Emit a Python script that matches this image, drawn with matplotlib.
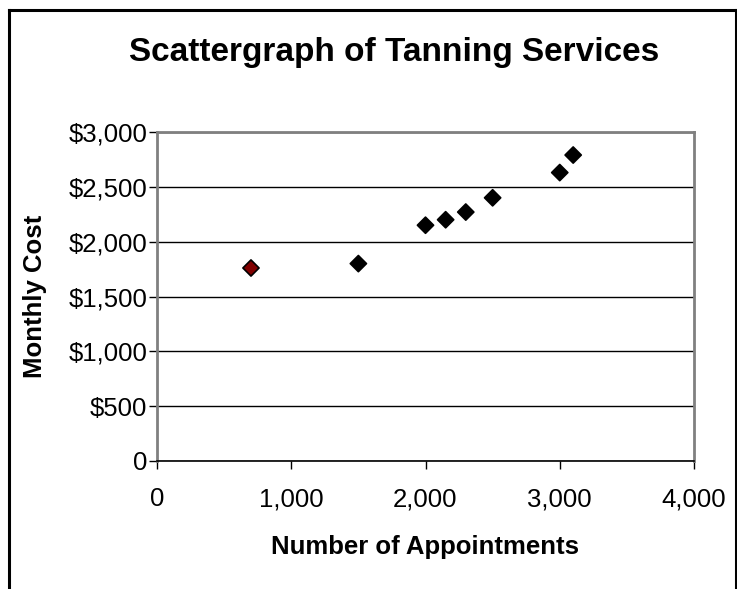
import matplotlib
matplotlib.use("Agg")
import matplotlib.pyplot as plt
from matplotlib.lines import Line2D
from matplotlib.ticker import FuncFormatter

plt.rcParams['font.family'] = ['Liberation Sans', 'DejaVu Sans']

# appointments per month vs. monthly cost
appointments = [700, 1500, 2000, 2150, 2300, 2500, 3000, 3100]
monthly_cost = [1760, 1800, 2150, 2200, 2270, 2400, 2630, 2790]
point_colors = ['#800000', 'black', 'black', 'black', 'black', 'black', 'black', 'black']

x_ticks = [0, 1000, 2000, 3000, 4000]
y_ticks = [0, 500, 1000, 1500, 2000, 2500, 3000]

W, H = 737, 589
fig = plt.figure(figsize=(W / 100, H / 100), dpi=100)
ax = fig.add_axes([157 / W, (H - 461) / H, 537 / W, 329 / H])

ax.scatter(appointments, monthly_cost, marker='D', s=68, c=point_colors,
           edgecolors='black', linewidths=1.2, zorder=3)

ax.set_xlim(0, 4000)
ax.set_ylim(0, 3000)
ax.set_xticks(x_ticks)
ax.set_yticks(y_ticks)
ax.xaxis.set_major_formatter(FuncFormatter(lambda v, p: f"{int(v):,}"))
ax.yaxis.set_major_formatter(FuncFormatter(lambda v, p: "0" if v == 0 else f"${int(v):,}"))
ax.tick_params(axis='both', labelsize=18.5, length=6, width=1, direction='out', color='black')
ax.tick_params(axis='x', pad=13)
ax.tick_params(axis='y', pad=1)

ax.yaxis.grid(True, color='black', linewidth=1)
ax.set_axisbelow(True)
for side in ['top', 'right', 'left']:
    ax.spines[side].set_color('#808080')
    ax.spines[side].set_linewidth(2)
ax.spines['bottom'].set_color('black')
ax.spines['bottom'].set_linewidth(1.2)

fig.text(394 / W, 1 - 52 / H, "Scattergraph of Tanning Services", ha='center', va='center',
         fontsize=24, fontweight='bold')
fig.text(425 / W, 1 - 547 / H, "Number of Appointments", ha='center', va='center',
         fontsize=18.5, fontweight='bold')
fig.text(35 / W, 1 - 296 / H, "Monthly Cost", ha='center', va='center', rotation=90,
         fontsize=18.5, fontweight='bold')

# outer chart frame (bottom edge falls off the image)
fx0, fx1, fy1 = 8.5 / W, 735.5 / W, 1 - 10 / H
fig.add_artist(Line2D([fx0, fx0], [-0.05, fy1], color='black', linewidth=2.2,
                      transform=fig.transFigure))
fig.add_artist(Line2D([fx0, fx1], [fy1, fy1], color='black', linewidth=2.2,
                      transform=fig.transFigure))
fig.add_artist(Line2D([fx1, fx1], [-0.05, fy1], color='black', linewidth=2.2,
                      transform=fig.transFigure))

fig.savefig("out.png", dpi=100)
